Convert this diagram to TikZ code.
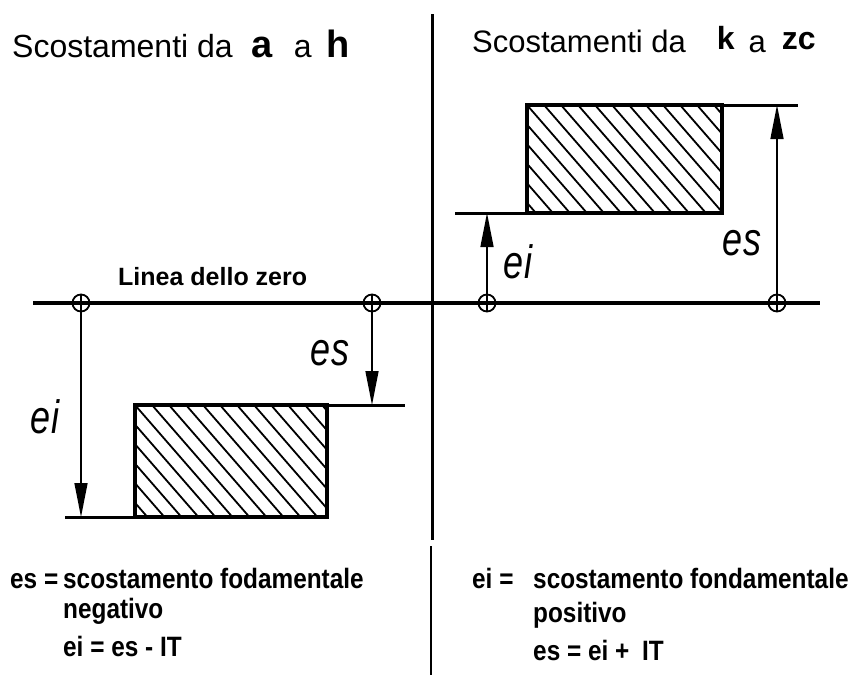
\documentclass[tikz,border=0pt]{standalone}
\usepackage{fontspec}
\setmainfont{Liberation Sans}
\newfontfamily\narrowfont[FakeStretch=0.87]{Liberation Sans}
\usepackage{graphicx}
\usetikzlibrary{arrows.meta,positioning,calc}

\newcommand{\dimtext}[1]{\scalebox{1}[1.3]{\fontsize{36}{36}\selectfont\itshape #1}}

\begin{document}
\begin{tikzpicture}[x=1pt,y=-1pt,
    zeroline/.style={line width=4.5pt},
    part/.style={draw,line width=4pt},
    stub/.style={line width=3pt},
    hatchline/.style={line width=1.8pt},
    ring/.style={circle,draw,line width=1.8pt,minimum size=17pt,inner sep=0pt},
    dimline/.style={line width=1.4pt,-{Triangle[length=34pt,width=13pt]}},
    title/.style={anchor=base west,inner sep=0pt},
    note/.style={anchor=base west,inner sep=0pt,font=\narrowfont\bfseries\fontsize{28}{28}\selectfont}
  ]
\useasboundingbox (0,0) rectangle (857,675);

% divider
\draw[line width=3pt] (432,14) -- (432,540);
\draw[line width=2pt] (431,546) -- (431,675);

% titles
\node[title,font=\fontsize{32}{32}\selectfont] (titleL) at (12,57)
  {Scostamenti da\hspace{19pt}{\fontsize{38}{38}\selectfont\bfseries a}\hspace{21pt}a\hspace{15pt}{\fontsize{38}{38}\selectfont\bfseries h}};
\node[title,font=\fontsize{31}{31}\selectfont] (titleR) at (472,52)
  {Scostamenti da\hspace{31pt}\raisebox{3pt}{\fontsize{32}{32}\selectfont\bfseries k}\hspace{14pt}a\hspace{16pt}\raisebox{3pt}{\fontsize{32}{32}\selectfont\bfseries zc}};

% zero line
\coordinate (z0) at (33,303);
\coordinate (z1) at (820,303);
\draw[zeroline] (z0) -- (z1);
\node[title,font=\bfseries\fontsize{25}{25}\selectfont] (zerolbl) at (118,285) {Linea dello zero};
\foreach \name/\x in {oL1/81,oL2/372,oR1/487,oR2/777}
  \node[ring] (\name) at (\x,303) {};

% left part
\coordinate (eiL) at (81,517);
\coordinate (esL) at (372,405);
\draw[stub] (65,517) -- (135,517);
\draw[stub] (327,405) -- (405,405);
\begin{scope}
  \clip (135,405) rectangle (327,517);
  \foreach \k in {-7,...,12}
    \draw[hatchline] (135+\k*17,405) -- ++(100,115);
\end{scope}
\draw[part] (135,405) rectangle (327,517);
\draw[dimline] (oL1.north) -- (eiL);
\draw[dimline] (oL2.north) -- (esL);
\node (esLlbl) at (330,353) {\dimtext{es}};
\node (eiLlbl) at (45,417) {\dimtext{ei}};

% right part
\coordinate (eiR) at (487,213);
\coordinate (esR) at (777,105);
\draw[stub] (455,213) -- (527,213);
\draw[stub] (722,105) -- (798,105);
\begin{scope}
  \clip (527,105) rectangle (722,213);
  \foreach \k in {-7,...,12}
    \draw[hatchline] (527+\k*17,105) -- ++(100,115);
\end{scope}
\draw[part] (527,105) rectangle (722,213);
\draw[dimline] (oR1.south) -- (eiR);
\draw[dimline] (oR2.south) -- (esR);
\node (eiRlbl) at (518,262) {\dimtext{ei}};
\node (esRlbl) at (742,243) {\dimtext{es}};

% notes
\node[note] (esdef) at (10,588) {es =};
\node[note] (esdef1) at (63,588) {scostamento fodamentale};
\node[note] (esdef2) at (63,618) {negativo};
\node[note] (eiform) at (63,656) {ei = es - IT};
\node[note] (eidef) at (472,588) {ei =};
\node[note] (eidef1) at (533,588) {scostamento fondamentale};
\node[note] (eidef2) at (533,622) {positivo};
\node[note] (esform) at (533,660) {es = ei +\hspace{6pt} IT};
\end{tikzpicture}
\end{document}
